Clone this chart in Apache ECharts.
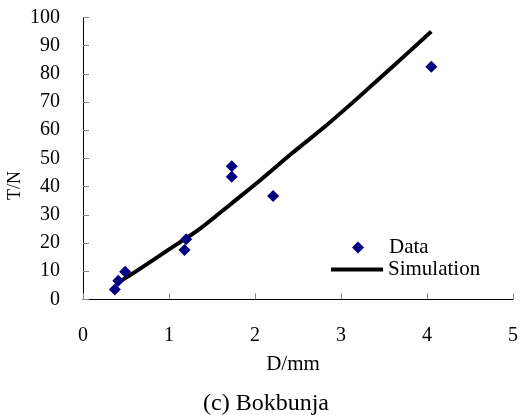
<!DOCTYPE html>
<html>
<head>
  <meta charset="utf-8" />
  <title>Bokbunja</title>
  <script src="https://cdn.jsdelivr.net/npm/echarts@6/dist/echarts.min.js"></script>
  <style>
    html, body { margin: 0; padding: 0; background: #fff; }
    #main { width: 521px; height: 415px; }
  </style>
</head>
<body>
  <div id="main"></div>
  <script>
    // measured points
    var dataD = [0.37, 0.41, 0.49, 1.18, 1.20, 1.73, 1.73, 2.21, 4.05];
    var dataT = [3.5, 6.6, 9.8, 17.5, 21.3, 47.2, 43.5, 36.7, 82.5];
    // simulation curve
    var simD = [0.38, 0.58, 0.97, 1.35, 1.73, 2.05, 2.43, 2.81, 3.19, 3.58, 4.05];
    var simT = [5.5, 9.2, 17.1, 24.8, 34.1, 42.0, 51.8, 61.2, 71.3, 82.0, 95.0];

    var xTicks = [0, 1, 2, 3, 4, 5];
    var yTicks = [0, 10, 20, 30, 40, 50, 60, 70, 80, 90, 100];

    var font = '"Liberation Serif", "Times New Roman", serif';

    var chart = echarts.init(document.getElementById('main'));
    var option = {
      animation: false,
      textStyle: { fontFamily: font },
      grid: { left: 83, right: 5, top: 17.5, bottom: 115.7 },
      legend: [{
        data: [{ name: 'Data', icon: 'diamond' }],
        left: 347, top: 232,
        itemWidth: 12, itemHeight: 12,
        textStyle: { fontFamily: font, fontSize: 21, color: '#000', padding: [0, 0, 0, 20] }
      }, {
        data: [{ name: 'Simulation', icon: 'rect' }],
        left: 326, top: 254,
        itemWidth: 52, itemHeight: 4,
        textStyle: { fontFamily: font, fontSize: 21, color: '#000' }
      }],
      title: {
        text: '(c) Bokbunja',
        left: 261, textAlign: 'center', top: 387,
        textStyle: { fontFamily: font, fontSize: 24, fontWeight: 'normal', color: '#000' }
      },
      graphic: [{
        type: 'text', left: 6, top: 171, rotation: Math.PI / 2,
        style: { text: 'T/N', font: '18px ' + font, fill: '#000' }
      }],
      xAxis: {
        type: 'value', min: 0, max: 5, interval: 1,
        name: 'D/mm', nameLocation: 'middle', nameGap: 55,
        nameTextStyle: { fontFamily: font, fontSize: 21, color: '#000', padding: [0, 10, 0, 0] },
        axisLine: { show: true, lineStyle: { color: '#000', width: 1 } },
        axisTick: { show: true, inside: true, length: 6, lineStyle: { color: '#888' } },
        axisLabel: {
          margin: 26, fontFamily: font, fontSize: 20, color: '#000',
          formatter: function (v) { return xTicks.indexOf(v) >= 0 ? String(v) : ''; }
        },
        splitLine: { show: false }
      },
      yAxis: {
        type: 'value', min: 0, max: 100, interval: 10,
        axisLine: { show: true, lineStyle: { color: '#000', width: 1 } },
        axisTick: { show: true, inside: true, length: 6, lineStyle: { color: '#888' } },
        axisLabel: {
          margin: 23, fontFamily: font, fontSize: 20, color: '#000',
          formatter: function (v) { return yTicks.indexOf(v) >= 0 ? String(v) : ''; }
        },
        splitLine: { show: false }
      },
      series: [{
        name: 'Simulation',
        type: 'line',
        data: simD.map(function (d, i) { return [d, simT[i]]; }),
        smooth: 0.3,
        symbol: 'none',
        lineStyle: { color: '#000', width: 4 },
        itemStyle: { color: '#000' },
        z: 2
      }, {
        name: 'Data',
        type: 'scatter',
        data: dataD.map(function (d, i) { return [d, dataT[i]]; }),
        symbol: 'diamond',
        symbolSize: 12,
        itemStyle: { color: '#000080', opacity: 1 },
        z: 3
      }]
    };
    chart.setOption(option);
  </script>
</body>
</html>
